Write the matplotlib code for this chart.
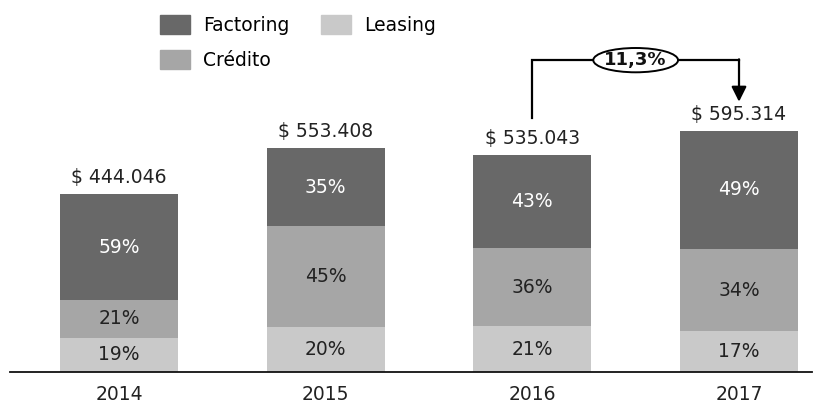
import matplotlib
matplotlib.use("Agg")
import matplotlib.pyplot as plt
from matplotlib.patches import Ellipse, Patch

plt.rcParams['font.family'] = ['DejaVu Sans']

years = ["2014", "2015", "2016", "2017"]
totals = [444046, 553408, 535043, 595314]
factoring = [59, 35, 43, 49]
credito = [21, 45, 36, 34]
leasing = [19, 20, 21, 17]
growth_label = "11,3%"

c_fact = "#686868"
c_cred = "#a6a6a6"
c_leas = "#c9c9c9"

W, H = 824, 408
fig = plt.figure(figsize=(W / 100, H / 100), dpi=100)
ax = fig.add_axes([10 / W, 36 / H, 802 / W, (H - 36) / H])

px_per_unit = 206.7
ax.set_xlim(-109 / px_per_unit, 3 + 73 / px_per_unit)
ymax = (H - 36) / 0.405
ax.set_ylim(0, ymax)

x = list(range(len(years)))
t_k = [t / 1000 for t in totals]
h_leas = [t * p / 100 for t, p in zip(t_k, leasing)]
h_cred = [t * p / 100 for t, p in zip(t_k, credito)]
h_fact = [t * p / 100 for t, p in zip(t_k, factoring)]
b_cred = h_leas
b_fact = [a + b for a, b in zip(h_leas, h_cred)]

bw = 0.57
ax.bar(x, h_leas, bw, color=c_leas, label="Leasing")
ax.bar(x, h_cred, bw, bottom=b_cred, color=c_cred, label="Crédito")
ax.bar(x, h_fact, bw, bottom=b_fact, color=c_fact, label="Factoring")

fs = 13.5
for i in x:
    ax.text(i, h_leas[i] / 2, f"{leasing[i]}%", ha="center", va="center",
            fontsize=fs, color="#222222")
    ax.text(i, b_cred[i] + h_cred[i] / 2, f"{credito[i]}%", ha="center",
            va="center", fontsize=fs, color="#222222")
    ax.text(i, b_fact[i] + h_fact[i] / 2, f"{factoring[i]}%", ha="center",
            va="center", fontsize=fs, color="white")
    top = b_fact[i] + h_fact[i]
    label = "$ " + f"{totals[i]:,}".replace(",", ".")
    ax.annotate(label, (i, top), xytext=(0, 5), textcoords="offset points",
                ha="center", va="bottom", fontsize=fs, color="#222222")

# growth connector from 2016 to 2017
top16 = b_fact[2] + h_fact[2]
top17 = b_fact[3] + h_fact[3]
y_line = 770
ax.plot([2, 2, 3], [top16 + 91, y_line, y_line], color="black", lw=1.6,
        solid_joinstyle="miter")
ax.annotate("", xy=(3, top17 + 72), xytext=(3, y_line + 2),
            arrowprops=dict(arrowstyle="-|>,head_length=0.9,head_width=0.45",
                            color="black", lw=1.6, shrinkA=0, shrinkB=0))
ell = Ellipse((2.5, y_line), 0.41, 60, facecolor="white", edgecolor="black",
              lw=1.4, zorder=3)
ax.add_patch(ell)
ax.text(2.5, y_line, growth_label, ha="center", va="center", fontsize=13,
        fontweight="bold", zorder=4, color="#111111")

for s in ["top", "right", "left"]:
    ax.spines[s].set_visible(False)
ax.spines["bottom"].set_linewidth(1.3)
ax.spines["bottom"].set_color("#111111")
ax.set_yticks([])
ax.set_xticks(x)
ax.set_xticklabels(years, fontsize=fs, color="#222222")
ax.tick_params(axis="x", length=0, pad=9)

handles = [Patch(color=c_fact), Patch(color=c_cred), Patch(color=c_leas)]
fig.legend(handles, ["Factoring", "Crédito", "Leasing"], ncol=2,
           loc="upper left", bbox_to_anchor=(143 / W, 1.005), frameon=False,
           fontsize=fs, handlelength=1.6, handleheight=1.2,
           columnspacing=1.7, labelspacing=0.8, handletextpad=0.7)

fig.savefig("out.png", dpi=100)
